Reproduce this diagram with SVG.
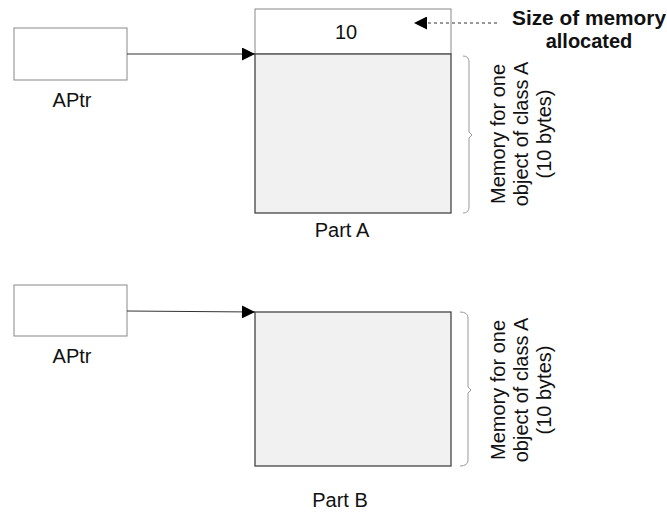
<svg xmlns="http://www.w3.org/2000/svg" width="667" height="512" viewBox="0 0 667 512">
<defs>
<style>
.t{font-family:"Liberation Sans",Arial,sans-serif;font-size:20px;fill:#111}
.b{font-weight:bold}
.box{fill:#fff;stroke:#888;stroke-width:1}
.mem{fill:#f1f1f1;stroke:#444;stroke-width:1.3}
.ln{stroke:#333;stroke-width:1;fill:none}
.br{stroke:#999;stroke-width:1;fill:none}
</style>
<marker id="ah" viewBox="0 0 10 10" refX="10" refY="5" markerWidth="14" markerHeight="13" markerUnits="userSpaceOnUse" orient="auto">
<path d="M0,0 L10,5 L0,10 z" fill="#000"/>
</marker>
</defs>
<g id="aptrA">
<rect class="box" x="14" y="28" width="113" height="52"/>
<text class="t" x="72" y="107" text-anchor="middle">APtr</text>
</g>
<g id="partA">
<rect class="box" x="255" y="9" width="196" height="45"/>
<text class="t" x="346" y="39" text-anchor="middle">10</text>
<rect class="mem" x="255" y="54" width="196" height="159"/>
<text class="t" x="342" y="237" text-anchor="middle">Part A</text>
</g>
<g id="sizeLabel">
<text class="t b" x="589" y="25" text-anchor="middle" textLength="154" lengthAdjust="spacingAndGlyphs">Size of memory</text>
<text class="t b" x="589" y="48" text-anchor="middle">allocated</text>
</g>
<g id="braceA">
<path class="br" d="M463,56 Q469,56 469,62 L469,132 L472,135 L469,138 L469,207 Q469,213 463,213"/>
<text class="t" transform="translate(505,134) rotate(-90)" text-anchor="middle">Memory for one</text>
<text class="t" transform="translate(528,134) rotate(-90)" text-anchor="middle">object of class A</text>
<text class="t" transform="translate(551,134) rotate(-90)" text-anchor="middle">(10 bytes)</text>
</g>
<g id="aptrB">
<rect class="box" x="14" y="285" width="113" height="51"/>
<text class="t" x="72" y="363" text-anchor="middle">APtr</text>
</g>
<g id="partB">
<rect class="mem" x="255" y="312" width="196" height="154"/>
<text class="t" x="340" y="507" text-anchor="middle">Part B</text>
</g>
<g id="braceB">
<path class="br" d="M460,312 Q468,312 468,318 L468,387 L471,390 L468,393 L468,460 Q468,466 460,466"/>
<text class="t" transform="translate(505,390) rotate(-90)" text-anchor="middle">Memory for one</text>
<text class="t" transform="translate(528,390) rotate(-90)" text-anchor="middle">object of class A</text>
<text class="t" transform="translate(551,390) rotate(-90)" text-anchor="middle">(10 bytes)</text>
</g>
<g id="connectors">
<line class="ln" x1="127" y1="54" x2="255" y2="54" marker-end="url(#ah)"/>
<line class="ln" x1="127" y1="311" x2="255" y2="312" marker-end="url(#ah)"/>
<line class="ln" x1="497" y1="23" x2="414" y2="23" stroke-dasharray="3,3" marker-end="url(#ah)"/>
</g>
</svg>
